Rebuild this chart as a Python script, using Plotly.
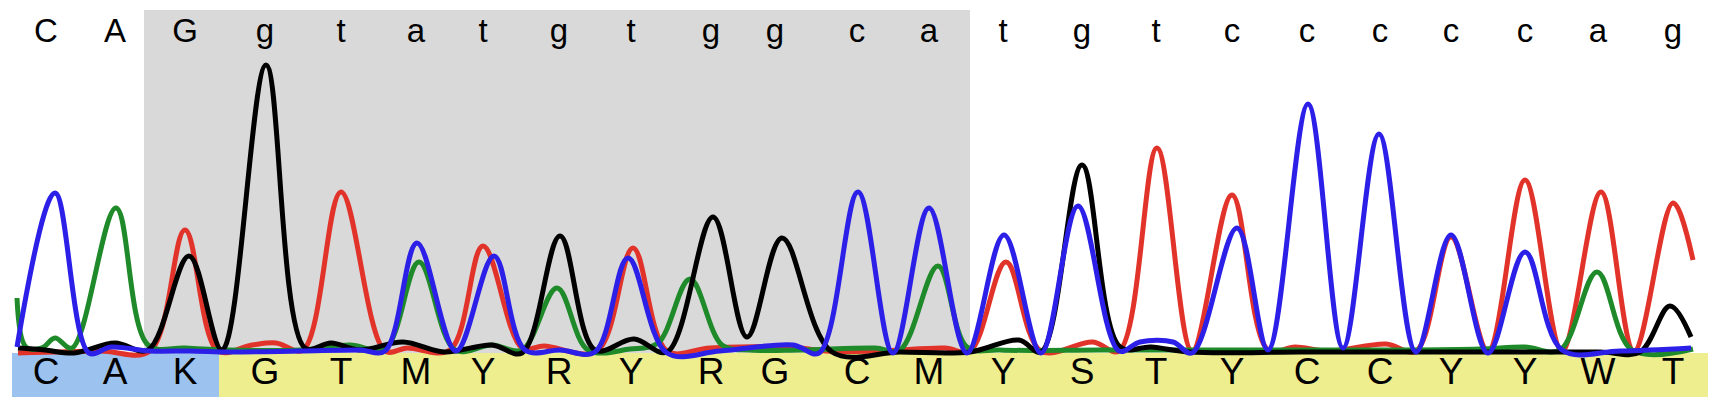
import plotly.graph_objects as go

# Base calls
top_bases = list("CAGgtatgtggcatgtcccccag")
bottom_bases = list("CAKGTMYRYRGCMYSTYCCYYWT")
base_positions = [46, 115, 185, 265, 341, 416, 483, 559, 631, 711, 775, 857, 929,
                  1003, 1082, 1156, 1232, 1307, 1380, 1451, 1525, 1598, 1673]

# Trace key points (scan position, signal)
green_x = [17, 26, 42, 55, 72, 116, 148, 185, 230, 300, 350, 385, 419, 455, 492, 522,
           557, 588, 630, 658, 690, 722, 750, 800, 875, 900, 938, 967, 1000, 1100, 1200, 1300,
           1400, 1480, 1525, 1560, 1597, 1632, 1693]
green_y = [53, 4, 3, 13, 3, 143, 6, 3, 1, 1, 6, 2, 89, 1, 6, 1,
           63, 1, 2, 8, 72, 6, 1, 1, 3, 1, 85, 4, 1, 1, 1, 1,
           1, 2, 4, 1, 79, 1, 2]

red_x = [18, 100, 150, 185, 218, 252, 276, 303, 341, 385, 407, 450, 483, 522, 544, 597,
         633, 667, 710, 789, 826, 880, 945, 970, 1006, 1041, 1093, 1119, 1157, 1192,
         1232, 1268, 1295, 1330, 1386, 1416, 1451, 1488, 1525, 1562, 1601, 1634, 1673, 1693]
red_y = [-2, 0, 0, 121, 0, 6, 8, 1, 159, 0, 3, 1, 105, 3, 5, 0,
         103, 0, 3, 4, 0, 0, 3, 0, 89, 0, 9, 0, 203, 0,
         156, 1, 4, 0, 7, 0, 114, 0, 171, 0, 159, 0, 148, 91]

black_x = [18, 45, 74, 115, 148, 189, 222, 266, 305, 331, 360, 403, 444, 492, 522, 560,
           595, 634, 667, 713, 747, 782, 832, 900, 970, 1019, 1041, 1082, 1120, 1151,
           1190, 1300, 1400, 1500, 1600, 1640, 1670, 1691]
black_y = [3, 1, -2, 8, 1, 95, 1, 286, 3, 8, 1, 9, -1, 6, -2, 115,
           1, 12, -1, 134, 14, 113, -1, -1, -1, 11, -1, 186, 4, 4,
           -1, -1, -1, -1, -1, -1, 45, 14]

blue_x = [17, 55, 89, 111, 150, 190, 230, 300, 360, 385, 417, 456, 494, 525, 560, 595,
          628, 667, 720, 793, 819, 858, 893, 929, 967, 1004, 1041, 1078, 1119, 1140,
          1173, 1192, 1237, 1268, 1308, 1343, 1379, 1416, 1451, 1488, 1525, 1562, 1620, 1691]
blue_y = [4, 158, -2, 4, 0, 0, -1, 0, 1, 0, 108, 0, 95, 1, 1, -1,
          93, -2, 0, 6, -2, 159, -2, 143, -2, 116, -2, 145, 0, 9,
          9, -2, 123, 1, 247, 3, 217, -1, 116, -2, 99, 1, 0, 3]

channels = [
    ("T", red_x, red_y, "#e2332b"),
    ("A", green_x, green_y, "#1f8a2a"),
    ("G", black_x, black_y, "#000000"),
    ("C", blue_x, blue_y, "#2b1fe8"),
]

fig = go.Figure()
for name, xs, ys, col in channels:
    fig.add_trace(go.Scatter(x=xs, y=ys, mode="lines", name=name,
                             line=dict(color=col, width=5, shape="spline", smoothing=1.0),
                             hoverinfo="skip"))

# base call letters
fig.add_trace(go.Scatter(x=base_positions, y=[317] * len(top_bases), mode="text",
                         text=top_bases,
                         textfont=dict(family="Liberation Sans, Arial", size=33, color="#000"),
                         hoverinfo="skip"))
fig.add_trace(go.Scatter(x=base_positions, y=[-24] * len(bottom_bases), mode="text",
                         text=bottom_bases,
                         textfont=dict(family="Liberation Sans, Arial", size=37, color="#000"),
                         hoverinfo="skip"))

shapes = [
    dict(type="rect", xref="x", yref="y", x0=144, x1=970, y0=-2, y1=341,
         fillcolor="#d9d9d9", line=dict(width=0), layer="below"),
    dict(type="rect", xref="x", yref="y", x0=12, x1=219, y0=-2, y1=-46,
         fillcolor="#9cc2f0", line=dict(width=0), layer="below"),
    dict(type="rect", xref="x", yref="y", x0=219, x1=1708, y0=-2, y1=-46,
         fillcolor="#eeee8f", line=dict(width=0), layer="below"),
]

fig.update_layout(
    width=1721, height=399,
    margin=dict(l=0, r=0, t=0, b=0),
    paper_bgcolor="white", plot_bgcolor="white",
    showlegend=False,
    shapes=shapes,
    xaxis=dict(range=[0, 1721], visible=False, fixedrange=True),
    yaxis=dict(range=[-48, 351], visible=False, fixedrange=True),
)

fig.write_html("out.html", config={"displayModeBar": False})
